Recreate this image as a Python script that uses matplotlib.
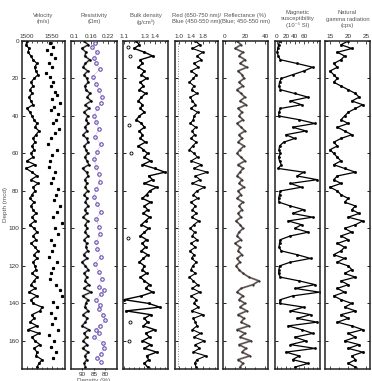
import numpy as np
import matplotlib.pyplot as plt
from matplotlib.ticker import MultipleLocator

plt.rcParams['font.family'] = ['Liberation Sans', 'DejaVu Sans']

# depth grid of the logs (mcd), one sample every 2 m
DEPTH = np.arange(0, 176, 2)

VELOCITY = [1500, 1498, 1504, 1502, 1508, 1512,
            1520, 1515, 1518, 1522, 1514, 1508, 1512, 1506, 1510, 1504,
            1508, 1512, 1500, 1506, 1510, 1514, 1520, 1516, 1524, 1518,
            1512, 1516, 1510, 1514, 1508, 1512, 1500, 1516, 1498, 1510,
            1520, 1508, 1522, 1512, 1516, 1510, 1506, 1514, 1508, 1512,
            1518, 1510, 1516, 1506, 1514, 1520, 1512, 1518, 1508, 1516,
            1522, 1514, 1520, 1512, 1516, 1518, 1510, 1520, 1514, 1508,
            1516, 1504, 1520, 1508, 1512, 1530, 1526, 1510, 1514, 1506,
            1520, 1502, 1524, 1510, 1516, 1526, 1514, 1520, 1518, 1530,
            1524, 1520]
VEL_DOT_DEPTH = [1, 3, 5, 7, 9, 12, 14, 17, 19, 22, 24, 27, 29, 31, 33, 35,
                 37, 39, 42, 44, 47, 49, 52, 55, 58, 61, 64, 67, 70, 73, 76,
                 79, 82, 85, 88, 91, 94, 97, 100, 103, 106, 109, 112, 115,
                 118, 121, 124, 127, 130, 133, 136, 139, 142, 145, 148, 151,
                 154, 157, 160, 163, 166, 169]
VEL_DOT = [1545, 1552, 1540, 1548, 1556, 1544, 1550, 1538, 1546, 1552, 1548,
           1556, 1560, 1550, 1566, 1554, 1548, 1562, 1558, 1552, 1564, 1556,
           1548, 1542, 1560, 1550, 1546, 1544, 1556, 1552, 1548, 1562, 1558,
           1554, 1566, 1560, 1552, 1570, 1556, 1562, 1548, 1554, 1550, 1544,
           1560, 1552, 1548, 1546, 1558, 1566, 1570, 1552, 1560, 1548, 1556,
           1550, 1562, 1544, 1554, 1548, 1558, 1552]

RESISTIVITY = [0.135, 0.150, 0.128, 0.142, 0.138, 0.155,
               0.140, 0.132, 0.148, 0.136, 0.145, 0.150, 0.138, 0.142, 0.156,
               0.146, 0.160, 0.140, 0.152, 0.135, 0.148, 0.142, 0.150, 0.138,
               0.146, 0.132, 0.144, 0.150, 0.136, 0.142, 0.148, 0.138, 0.146,
               0.152, 0.130, 0.144, 0.150, 0.138, 0.145, 0.140, 0.148, 0.136,
               0.146, 0.140, 0.150, 0.138, 0.145, 0.132, 0.148, 0.140, 0.146,
               0.138, 0.150, 0.136, 0.144, 0.142, 0.148, 0.134, 0.146, 0.128,
               0.140, 0.150, 0.136, 0.145, 0.138, 0.152, 0.135, 0.160, 0.130,
               0.148, 0.142, 0.138, 0.150, 0.132, 0.146, 0.140, 0.128, 0.152,
               0.136, 0.144, 0.132, 0.146, 0.130, 0.150, 0.138, 0.144,
               0.136, 0.140]
DENS_DEPTH = [1, 3, 6, 9, 12, 15, 19, 23, 26, 30, 33, 36, 40, 43, 47, 51, 55,
              59, 63, 67, 71, 75, 79, 83, 87, 91, 95, 99, 103, 107, 111, 115,
              119, 123, 127, 131, 133, 135, 138, 141, 143, 146, 149, 152, 154,
              156, 158, 161, 164, 167, 169, 171]
DENSITY = [84.5, 86, 83.5, 85, 84, 82.5, 85.5, 84, 83, 81.5, 82, 83.5, 85, 84,
           83, 84.5, 82, 83.5, 85, 84, 83, 82.5, 84, 85, 83.5, 82, 84, 83,
           82.5, 84, 83.5, 82, 84.5, 83, 81.5, 83, 80.5, 82, 84, 82.5, 83, 81,
           80, 82.5, 84, 83, 85, 81, 80.5, 82, 83.5, 82]

BULK_DENSITY = [1.22, 1.25, 1.20, 1.30, 1.38, 1.26,
                1.28, 1.24, 1.30, 1.27, 1.32, 1.26, 1.29, 1.25, 1.31, 1.27,
                1.24, 1.28, 1.26, 1.30, 1.25, 1.22, 1.27, 1.30, 1.25, 1.28,
                1.26, 1.31, 1.24, 1.29, 1.33, 1.30, 1.36, 1.28, 1.40, 1.50,
                1.34, 1.38, 1.30, 1.42, 1.35, 1.32, 1.28, 1.36, 1.30, 1.33,
                1.29, 1.35, 1.31, 1.27, 1.34, 1.30, 1.26, 1.32, 1.28, 1.31,
                1.27, 1.33, 1.29, 1.25, 1.30, 1.28, 1.32, 1.26, 1.30, 1.35,
                1.31, 1.38, 1.27, 1.10, 1.34, 1.45, 1.12, 1.36, 1.30, 1.33,
                1.29, 1.40, 1.31, 1.35, 1.28, 1.36, 1.30, 1.42, 1.32, 1.34,
                1.30, 1.33]
BD_DOT_DEPTH = [3, 8, 45, 60, 105, 150, 160]
BD_DOT = [1.14, 1.16, 1.15, 1.17, 1.14, 1.16, 1.15]

RED_BLUE = [1.55, 1.70, 1.45, 1.80, 1.60, 1.75,
            1.50, 1.65, 1.40, 1.58, 1.48, 1.35, 1.50, 1.42, 1.60, 1.38,
            1.45, 1.55, 1.40, 1.62, 1.50, 1.48, 1.38, 1.56, 1.44, 1.52,
            1.40, 1.58, 1.46, 1.35, 1.50, 1.62, 1.40, 1.75, 1.50, 1.95,
            1.55, 1.70, 1.45, 1.85, 1.60, 1.48, 1.62, 1.40, 1.55, 1.45,
            1.58, 1.42, 1.66, 1.50, 1.38, 1.52, 1.45, 1.60, 1.40, 1.55,
            1.36, 1.50, 1.42, 1.58, 1.46, 1.40, 1.55, 1.35, 1.48, 1.62,
            1.45, 1.70, 1.40, 1.58, 1.50, 1.65, 1.42, 1.80, 1.48, 1.55,
            1.60, 1.45, 1.72, 1.50, 1.85, 1.55, 1.68, 1.48, 1.90, 1.60,
            1.52, 1.58]

REFLECTANCE = [12, 16, 10, 18, 14, 20,
               15, 22, 13, 17, 19, 14, 18, 12, 16, 20, 15, 21, 13, 17, 14,
               18, 12, 16, 20, 14, 17, 13, 19, 15, 12, 16, 20, 13, 18, 15,
               12, 17, 14, 19, 13, 16, 12, 18, 14, 17, 13, 16, 11, 15, 18,
               14, 12, 16, 10, 15, 13, 17, 12, 15, 11, 14, 18, 24, 34, 28,
               16, 12, 18, 14, 20, 15, 22, 13, 19, 16, 24, 12, 20, 15, 26,
               14, 21, 17, 25, 13, 18, 15]

MAG_SUS = [6, 4, 2, 1, 3, 8,
           45, 80, 60, 35, 10, 6, 5, 8, 40, 70, 30, 55, 8, 5, 4,
           50, 85, 35, 65, 20, 40, 15, 6, 5, 8, 4, 6, 10, 3, 60,
           45, 90, 30, 55, 8, 6, 4, 5, 30, 60, 35, 80, 25, 55, 40,
           70, 30, 8, 6, 5, 10, 45, 75, 30, 6, 5, 4, 8, 50, 85,
           40, 95, 35, 8, 6, 60, 30, 75, 45, 90, 25, 55, 80, 40, 65,
           30, 85, 20, 50, 35, 70, 40]

GAMMA = [20, 18, 21, 17, 19, 18,
         16, 17, 15, 16, 17, 16, 18, 20, 22, 23, 21, 24, 22, 20, 19,
         18, 20, 17, 19, 21, 18, 16, 17, 15, 16, 17, 18, 16, 19, 22,
         17, 16, 18, 15, 17, 18, 20, 19, 22, 21, 23, 20, 24, 22, 19,
         21, 18, 20, 17, 19, 18, 16, 19, 17, 20, 21, 19, 22, 18, 20,
         17, 19, 16, 18, 21, 19, 22, 18, 20, 17, 21, 24, 20, 22, 19,
         23, 20, 24, 21, 22, 20, 22]

TITLES = ['Velocity\n(m/s)', 'Resistivity\n(\u03a9m)', 'Bulk density\n(g/cm\u00b3)',
          'Red (650-750 nm)/\nBlue (450-550 nm)',
          'Reflectance (%)\n(Blue; 450-550 nm)',
          'Magnetic\nsusceptibility\n(10\u207b\u2075 SI)',
          'Natural\ngamma radiation\n(cps)']

GREY = '#555555'
W, H = 372, 381
fig = plt.figure(figsize=(W / 100, H / 100), dpi=100)

# panel left edges and widths in pixels
lefts = [22, 71, 123, 175, 223, 275, 325]
widths = [43, 46, 45, 43, 45, 45, 45]
top, bottom = 41, 369
xlims = [(1490, 1576), (0.09, 0.25), (1.09, 1.53), (0.87, 2.3),
         (-2, 43), (-4, 96), (13.6, 26)]
majors = [[1500, 1550], [0.1, 0.16, 0.22], [1.1, 1.3, 1.4], [1.0, 1.4, 1.8],
          [0, 20, 40], [0, 20, 40, 60], [15, 20, 25]]
minors = [10, 0.02, 0.05, 0.2, 10, 10, 2.5]
majlabels = [['1500', '1550'], ['0.1', '0.16', '0.22'], ['1.1', '1.3', '1.4'],
             ['1.0', '1.4', '1.8'], ['0', '20', '40'], ['0', '20', '40', '60'],
             ['15', '20', '25']]

axes = []
for i in range(7):
    ax = fig.add_axes([lefts[i] / W, 1 - bottom / H, widths[i] / W,
                       (bottom - top) / H])
    axes.append(ax)

# density scale shares the resistivity panel (bottom axis)
axd = axes[1].twiny()

for i, ax in enumerate(axes):
    ax.set_xlim(*xlims[i])
    ax.set_ylim(175, 0)
    ax.xaxis.tick_top()
    ax.set_xticks(majors[i])
    ax.set_xticklabels(majlabels[i])
    ax.xaxis.set_minor_locator(MultipleLocator(minors[i]))
    ax.tick_params(axis='x', which='both', direction='in', top=True,
                   bottom=(i != 1), labeltop=True, labelbottom=False,
                   labelsize=4.6, labelcolor='#333333', pad=1.5,
                   length=2, width=0.5)
    ax.tick_params(axis='x', which='minor', length=1.2)
    ax.set_yticks([0, 20, 40, 60, 80, 100, 120, 140, 160])
    ax.tick_params(axis='y', which='both', direction='in', left=True,
                   right=True, labelleft=(i == 0), labelsize=4.6,
                   labelcolor='#333333', pad=2, length=2, width=0.6)
    for s in ax.spines.values():
        s.set_linewidth(1.1)
        s.set_color('#222222')
    fig.text((lefts[i] + widths[i] / 2) / W, 1 - 19 / H, TITLES[i],
             ha='center', va='center', fontsize=4.2, color=GREY,
             linespacing=1.25)

fig.text(6 / W, 1 - 205 / H, 'Depth (mcd)', rotation=90, ha='center',
         va='center', fontsize=4.6, color=GREY)

# velocity
ax = axes[0]
ax.plot(VELOCITY, DEPTH, color='black', lw=0.9, marker='s', ms=1.0)
ax.plot(VEL_DOT, VEL_DOT_DEPTH, ls='none', marker='s', ms=1.3, color='black')

# resistivity + density
ax = axes[1]
ax.plot(RESISTIVITY, DEPTH, color='#888888', lw=1.6, alpha=0.7)
ax.plot(RESISTIVITY, DEPTH, color='black', lw=0.6, marker='s', ms=0.8)
axd.set_xlim(95, 75)
axd.set_ylim(175, 0)
axd.xaxis.tick_bottom()
axd.set_xticks([90, 85, 80])
axd.tick_params(axis='x', direction='inout', labelsize=4.6,
                labelcolor='#333333', pad=1, length=2, width=0.5)
axd.plot(DENSITY, DENS_DEPTH, ls=':', lw=0.4, color='#7a5fb0', marker='o',
         ms=2.5, mfc='none', mec='#6a4fb0', mew=0.8)
axd.set_xlabel('Density (%)', fontsize=4.6, color=GREY, labelpad=1)
axd.xaxis.set_label_position('bottom')
for s in axd.spines.values():
    s.set_visible(False)

# bulk density
ax = axes[2]
ax.plot(BULK_DENSITY, DEPTH, color='black', lw=1.0, marker='s', ms=1.0)
ax.plot(BD_DOT, BD_DOT_DEPTH, ls='none', marker='o', ms=2.2, mfc='none',
        mec='black', mew=0.6)

# red / blue
ax = axes[3]
ax.axvline(0.97, color='#666666', lw=0.6, ls=(0, (1, 2)))
ax.plot(RED_BLUE, DEPTH, color='black', lw=0.8, marker='s', ms=0.9)

# reflectance
ax = axes[4]
ax.plot(REFLECTANCE, DEPTH, color='#8c7d78', lw=1.4)
ax.plot(REFLECTANCE, DEPTH, color='#333333', lw=0.4, marker='s', ms=0.6)

# magnetic susceptibility
ax = axes[5]
ax.plot(MAG_SUS, DEPTH, color='black', lw=0.9, marker='s', ms=0.9)

# gamma
ax = axes[6]
ax.plot(GAMMA, DEPTH, color='black', lw=0.9, marker='s', ms=1.0)

fig.savefig('out.png', dpi=100)
